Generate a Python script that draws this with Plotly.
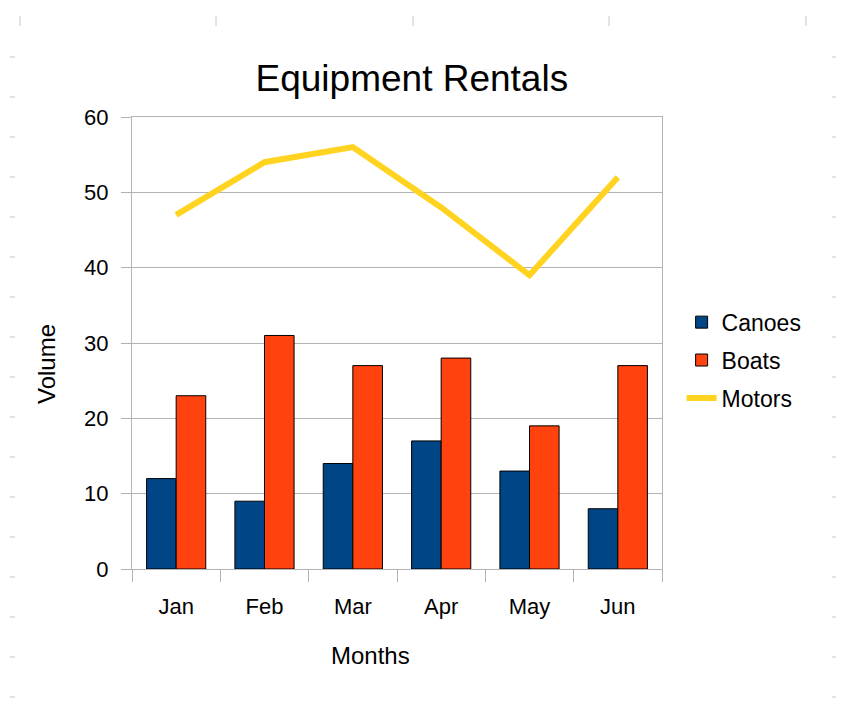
import plotly.graph_objects as go

# data
months = ["Jan", "Feb", "Mar", "Apr", "May", "Jun"]
canoes = [12, 9, 14, 17, 13, 8]
boats = [23, 31, 27, 28, 19, 27]
motors = [47, 54, 56, 48, 39, 52]

y_ticks = [0, 10, 20, 30, 40, 50, 60]

FONT = "Liberation Sans, Arial, sans-serif"
GRID = "#b3b3b3"

fig = go.Figure()
fig.add_bar(
    x=months, y=canoes, name="Canoes", legendgroup="a",
    marker=dict(color="#004586", line=dict(color="#000000", width=1)),
)
fig.add_bar(
    x=months, y=boats, name="Boats", legendgroup="b",
    marker=dict(color="#ff420e", line=dict(color="#000000", width=1)),
)
fig.add_scatter(
    x=months, y=motors, name="Motors", legendgroup="c",
    mode="lines", line=dict(color="#ffd320", width=6),
)

# faint spreadsheet cell marks around the chart, as in the screenshot
# (screen px relative to the plot area: left 132, bottom 569, 530x452)
shapes = []
for px in [20, 216, 413, 609, 806]:
    shapes.append(dict(type="line", xref="paper", yref="paper",
                       x0=(px - 132) / 530, x1=(px - 132) / 530,
                       y0=(569 - 16) / 452, y1=(569 - 26) / 452,
                       line=dict(color="#c8c8c8", width=1)))
for py in range(57, 700, 40):
    for x0, x1 in [(10, 15), (832, 838)]:
        shapes.append(dict(type="line", xref="paper", yref="paper",
                           x0=(x0 - 132) / 530, x1=(x1 - 132) / 530,
                           y0=(569 - py) / 452, y1=(569 - py) / 452,
                           line=dict(color="#c8c8c8", width=1)))

# axis titles sit off-centre in the original, so place them as annotations
annotations = [
    dict(text="Months", xref="paper", yref="paper",
         x=(370 - 132) / 530, y=(569 - 655) / 452,
         xanchor="center", yanchor="middle", showarrow=False,
         font=dict(size=24)),
    dict(text="Volume", xref="paper", yref="paper",
         x=(46 - 132) / 530, y=(569 - 364) / 452,
         xanchor="center", yanchor="middle", showarrow=False,
         textangle=-90, font=dict(size=24)),
]

fig.update_layout(
    width=844, height=704,
    margin=dict(l=124, r=190, t=109, b=143),
    paper_bgcolor="white", plot_bgcolor="white",
    font=dict(family=FONT, size=22, color="#000000"),
    title=dict(text="Equipment Rentals", x=0.4785, xanchor="center",
               y=0.9006, yanchor="middle", font=dict(size=37, color="#000000")),
    barmode="group", bargap=0.33, bargroupgap=0,
    showlegend=True,
    legend=dict(x=1.037, xanchor="left", y=0.462, yanchor="middle",
                font=dict(size=23), tracegroupgap=5, traceorder="grouped",
                bgcolor="rgba(0,0,0,0)"),
    shapes=shapes,
    annotations=annotations,
)
fig.update_xaxes(
    type="category", tickson="boundaries", ticks="outside", ticklen=12,
    tickcolor=GRID, showline=True, linecolor=GRID, linewidth=1, mirror=True,
    showgrid=False, ticklabelstandoff=18,
)
fig.update_yaxes(
    range=[0, 60], tickvals=y_ticks, ticks="outside", ticklen=10,
    tickcolor=GRID, showline=True, linecolor=GRID, linewidth=1, mirror=True,
    showgrid=True, gridcolor=GRID, gridwidth=1, zeroline=False,
    ticklabelstandoff=8,
)

fig.write_html("out.html")
